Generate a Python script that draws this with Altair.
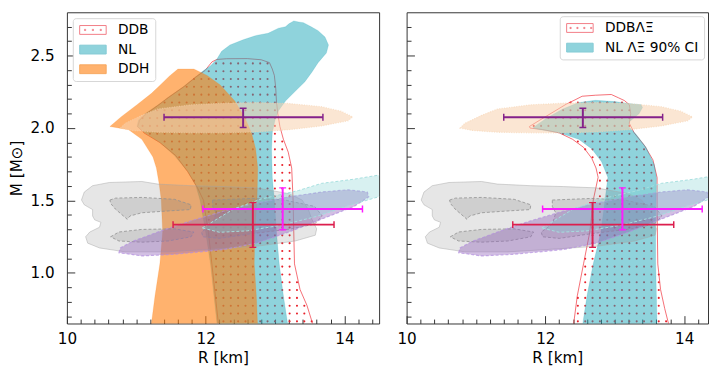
import altair as alt
import numpy as np
import pandas as pd

# ---------------- axes ----------------
X_DOMAIN_L = [10.0, 14.5]
X_DOMAIN_R = [10.0, 14.344]
Y_DOMAIN = [0.65, 2.8]
X_MAJOR = [10, 12, 14]
X_MINOR = [10.2, 10.4, 10.6, 10.8, 11.0, 11.2, 11.4, 11.6, 11.8, 12.2, 12.4, 12.6,
           12.8, 13.0, 13.2, 13.4, 13.6, 13.8, 14.2, 14.4]
Y_MAJOR = [1.0, 1.5, 2.0, 2.5]
Y_MINOR = [0.7, 0.8, 0.9, 1.1, 1.2, 1.3, 1.4, 1.6, 1.7, 1.8, 1.9, 2.1, 2.2, 2.3, 2.4, 2.6, 2.7]

# ---------------- left panel bands ----------------
DDB_R = [12.19, 12.14, 12.09, 12.04, 12.00, 11.97, 11.88, 11.74, 11.57, 11.34, 11.11, 11.02,
         11.05, 11.15, 11.34, 11.46, 11.69, 11.86, 11.99, 12.09, 12.16, 12.30, 12.60, 12.80,
         12.92, 12.96, 12.99, 13.01, 13.02, 13.04, 13.07, 13.12, 13.19, 13.24, 13.26, 13.27,
         13.28, 13.36, 13.46, 13.56]
DDB_M = [0.62, 0.84, 1.06, 1.28, 1.40, 1.50, 1.59, 1.70, 1.81, 1.90, 1.967, 2.011,
         2.055, 2.10, 2.166, 2.21, 2.287, 2.353, 2.397, 2.457, 2.474, 2.479, 2.48, 2.472,
         2.452, 2.408, 2.364, 2.276, 2.187, 2.099, 2.011, 1.923, 1.834, 1.724, 1.503, 1.282,
         1.062, 0.885, 0.775, 0.62]

NL_R = [12.17, 12.12, 12.07, 12.00, 11.92, 11.86, 11.74, 11.55, 11.34, 11.12, 11.01, 11.03,
        11.13, 11.33, 11.45, 11.68, 11.85, 11.97, 12.07, 12.16, 12.23, 12.35, 12.54, 12.73,
        12.90, 13.05, 13.15, 13.20, 13.27, 13.34, 13.41, 13.52, 13.62, 13.72, 13.77, 13.74,
        13.62, 13.53, 13.43, 13.29, 13.15, 13.05, 13.00, 12.96, 12.95, 12.96, 12.99, 13.02,
        13.06, 13.12, 13.19]
NL_M = [0.62, 0.84, 1.06, 1.28, 1.50, 1.60, 1.70, 1.81, 1.90, 1.967, 2.011, 2.055,
        2.10, 2.166, 2.21, 2.287, 2.353, 2.397, 2.43, 2.475, 2.53, 2.574, 2.61, 2.64,
        2.655, 2.69, 2.70, 2.72, 2.74, 2.733, 2.728, 2.70, 2.673, 2.629, 2.574, 2.519,
        2.452, 2.386, 2.32, 2.254, 2.187, 2.12, 2.055, 1.967, 1.856, 1.658, 1.503, 1.282,
        1.062, 0.841, 0.62]

DDH_R = [11.21, 11.27, 11.34, 11.38, 11.36, 11.33, 11.29, 11.24, 11.08, 10.89, 10.62, 10.78,
         11.02, 11.22, 11.35, 11.48, 11.60, 11.83, 12.02, 12.21, 12.42, 12.56, 12.66, 12.72,
         12.75, 12.74, 12.71, 12.70, 12.73, 12.75]
DDH_M = [0.62, 0.841, 1.062, 1.282, 1.503, 1.613, 1.724, 1.80, 1.922, 1.989, 2.011, 2.077,
         2.165, 2.24, 2.30, 2.36, 2.408, 2.408, 2.364, 2.298, 2.187, 2.077, 1.967, 1.856,
         1.724, 1.503, 1.282, 1.062, 0.841, 0.62]

# ---------------- right panel bands ----------------
DDBLX_R = [12.40, 12.46, 12.55, 12.64, 12.69, 12.76, 12.73, 12.67, 12.55, 12.39, 12.20, 11.96,
           11.78, 11.77, 11.92, 12.11, 12.30, 12.44, 12.53, 12.72, 12.95, 13.05, 13.14, 13.21,
           13.23, 13.21, 13.28, 13.43, 13.55, 13.61, 13.61, 13.62, 13.66, 13.72, 13.79]
DDBLX_M = [0.62, 0.841, 1.062, 1.282, 1.503, 1.66, 1.724, 1.79, 1.867, 1.923, 1.967, 1.99,
           2.0, 2.011, 2.055, 2.11, 2.165, 2.198, 2.22, 2.227, 2.232, 2.21, 2.19, 2.161,
           2.099, 2.033, 1.967, 1.878, 1.78, 1.658, 1.45, 1.062, 0.885, 0.753, 0.62]

NLLX_R = [12.53, 12.60, 12.69, 12.80, 12.86, 12.90, 12.81, 12.67, 12.48, 12.20, 11.92, 11.82,
          11.87, 12.01, 12.25, 12.48, 12.72, 13.00, 13.19, 13.38, 13.40, 13.35, 13.21, 13.20,
          13.31, 13.45, 13.57, 13.60, 13.59, 13.59, 13.60, 13.61]
NLLX_M = [0.62, 0.841, 1.062, 1.282, 1.503, 1.66, 1.768, 1.856, 1.923, 1.967, 1.989, 2.0,
          2.02, 2.066, 2.132, 2.176, 2.192, 2.183, 2.17, 2.161, 2.143, 2.099, 2.044, 2.011,
          1.956, 1.867, 1.746, 1.658, 1.40, 1.062, 0.841, 0.62]

# ---------------- observational constraints (both panels) ----------------
GRAY1_R = [10.21, 10.25, 10.37, 10.61, 11.08, 11.31, 11.79, 12.26, 12.73, 13.20, 13.39, 13.48,
           13.53, 13.60, 13.58, 13.29, 12.73, 12.02, 11.46, 10.84, 10.47, 10.30, 10.27, 10.33,
           10.47, 10.49, 10.40, 10.37, 10.37, 10.25]
GRAY1_M = [1.503, 1.558, 1.602, 1.624, 1.631, 1.613, 1.602, 1.596, 1.587, 1.547, 1.503, 1.437,
           1.371, 1.304, 1.260, 1.220, 1.183, 1.161, 1.145, 1.145, 1.172, 1.205, 1.249, 1.282,
           1.315, 1.349, 1.366, 1.393, 1.437, 1.470]
GRAY2A_R = [10.62, 10.70, 11.08, 11.55, 11.79, 11.78, 11.41, 11.08, 10.91, 10.87, 10.70, 10.63]
GRAY2A_M = [1.503, 1.516, 1.521, 1.508, 1.47, 1.437, 1.426, 1.415, 1.393, 1.37, 1.44, 1.48]
GRAY2B_R = [10.63, 10.75, 11.08, 11.55, 11.83, 11.79, 11.46, 11.08, 10.75]
GRAY2B_M = [1.249, 1.282, 1.300, 1.304, 1.282, 1.249, 1.220, 1.212, 1.220]
GRAY2C_R = [12.10, 12.67, 13.14, 13.57, 13.68, 13.57, 13.24, 12.67, 12.20, 11.96, 11.94, 12.10,
            12.15, 12.10]
GRAY2C_M = [1.503, 1.514, 1.503, 1.459, 1.393, 1.337, 1.304, 1.271, 1.238, 1.249, 1.282, 1.337,
            1.415, 1.459]

PEACH_R = [10.77, 10.84, 11.08, 11.31, 11.79, 12.26, 12.73, 13.20, 13.67, 13.95, 14.12, 14.05,
           13.67, 13.20, 12.73, 12.26, 11.79, 11.31, 10.94]
PEACH_M = [2.0, 2.033, 2.088, 2.132, 2.161, 2.172, 2.176, 2.17, 2.148, 2.117, 2.077, 2.05,
           2.015, 1.989, 1.973, 1.967, 1.967, 1.971, 1.984]

PURP_R = [10.75, 10.77, 10.94, 11.31, 11.79, 12.26, 12.73, 13.20, 13.67, 14.05, 14.33, 14.35,
          14.14, 13.67, 13.20, 12.73, 12.26, 11.55, 11.08]
PURP_M = [1.139, 1.172, 1.216, 1.282, 1.36, 1.426, 1.481, 1.525, 1.558, 1.574, 1.558, 1.525,
          1.459, 1.371, 1.282, 1.205, 1.161, 1.128, 1.117]

CYAN_R = [11.95, 12.4, 12.8, 13.34, 13.67, 14.14, 14.49, 14.7, 14.7, 14.49, 14.1, 13.6, 13.1,
          12.6, 12.2]
CYAN_M = [1.31, 1.44, 1.51, 1.569, 1.618, 1.647, 1.675, 1.68, 1.55, 1.525, 1.47, 1.39, 1.33,
          1.29, 1.28]

# error bars
EB_R = [12.54, 13.11, 12.68]
EB_R_LO = [11.40, 11.96, 11.53]
EB_R_HI = [13.69, 14.26, 13.85]
EB_M = [2.075, 1.441, 1.333]
EB_M_LO = [2.004, 1.298, 1.176]
EB_M_HI = [2.137, 1.587, 1.485]
EB_COLOR = ["#84218a", "#ff1cff", "#dc1f4e"]

# legends
LEG_L_NAMES = ["DDB", "NL", "DDH"]
LEG_R_NAMES = ["DDBΛΞ", "NL ΛΞ 90% CI"]

RECT = "M-1,-0.9L4.4,-0.9L4.4,0.9L-1,0.9Z"


def dots_path(xs):
    p = RECT
    for x in xs:
        p += " M%.2f,-0.12L%.2f,-0.12L%.2f,0.12L%.2f,0.12Z" % (x - 0.12, x + 0.12, x + 0.12, x - 0.12)
    return p


FONT = "DejaVu Sans"
PLOT_H = 317


def poly_df(R, M):
    return pd.DataFrame({"R": R, "M": M, "i": list(range(len(R)))})


def inside(x, y, R, M):
    c = False
    n = len(R)
    j = n - 1
    for i in range(n):
        if (M[i] > y) != (M[j] > y):
            xi = (R[j] - R[i]) * (y - M[i]) / (M[j] - M[i]) + R[i]
            if x < xi:
                c = not c
        j = i
    return c


def hatch_dots(R, M):
    # hatch pattern of the dotted band: grid points that fall inside the outline
    gr = np.arange(10.03, 14.6, 0.106)
    gm = np.arange(0.665, 2.8, 0.054)
    pts = [(a, b) for b in gm for a in gr if inside(a, b, R, M)]
    return pd.DataFrame({"R": [p[0] for p in pts], "M": [p[1] for p in pts]})


def enc(xs, ys, order=True):
    d = dict(x=alt.X("R:Q", scale=xs, axis=None), y=alt.Y("M:Q", scale=ys, axis=None))
    if order:
        d["order"] = alt.Order("i:Q")
    return d


def poly(R, M, xs, ys, fill=None, fill_opacity=1.0, stroke="#000000", stroke_width=0.0,
         stroke_opacity=1.0, dash=None):
    kw = dict(interpolate="linear-closed", clip=True, stroke=stroke, strokeWidth=stroke_width,
              strokeOpacity=stroke_opacity)
    if fill is not None:
        kw["fill"] = fill
        kw["fillOpacity"] = fill_opacity
    if dash is not None:
        kw["strokeDash"] = dash
    return alt.Chart(poly_df(R, M)).mark_line(**kw).encode(**enc(xs, ys))


def background(xs, ys):
    layers = [
        poly(GRAY1_R, GRAY1_M, xs, ys, fill="#808080", fill_opacity=0.2, stroke="#a8a8a8",
             stroke_width=0.8, stroke_opacity=0.6),
        poly(GRAY2A_R, GRAY2A_M, xs, ys, fill="#808080", fill_opacity=0.22, stroke="#909090",
             stroke_width=0.8, dash=[3, 2]),
        poly(GRAY2B_R, GRAY2B_M, xs, ys, fill="#808080", fill_opacity=0.22, stroke="#909090",
             stroke_width=0.8, dash=[3, 2]),
        poly(GRAY2C_R, GRAY2C_M, xs, ys, fill="#808080", fill_opacity=0.22, stroke="#909090",
             stroke_width=0.8, dash=[3, 2]),
        poly(PEACH_R, PEACH_M, xs, ys, fill="#f7d2ae", fill_opacity=0.55, stroke="#f7d2ae",
             stroke_width=1.2, stroke_opacity=0.6, dash=[1, 1.5]),
        poly(PURP_R, PURP_M, xs, ys, fill="#9467bd", fill_opacity=0.42, stroke="#b48fe0",
             stroke_width=1.2, stroke_opacity=0.7, dash=[3, 2]),
        poly(CYAN_R, CYAN_M, xs, ys, fill="#7fd0d0", fill_opacity=0.3, stroke="#a5dede",
             stroke_width=1.0, dash=[3, 2]),
    ]
    eb = pd.DataFrame({"R": EB_R, "lo": EB_R_LO, "hi": EB_R_HI, "M": EB_M, "mlo": EB_M_LO,
                       "mhi": EB_M_HI, "c": EB_COLOR})
    col = alt.Color("c:N", scale=None)
    layers.append(alt.Chart(eb).mark_rule(strokeWidth=2, clip=True).encode(
        x=alt.X("lo:Q", scale=xs, axis=None), x2="hi:Q", y=alt.Y("M:Q", scale=ys, axis=None),
        color=col))
    layers.append(alt.Chart(eb).mark_rule(strokeWidth=2, clip=True).encode(
        x=alt.X("R:Q", scale=xs, axis=None), y=alt.Y("mlo:Q", scale=ys, axis=None), y2="mhi:Q",
        color=col))
    for fx in ["lo", "hi"]:
        layers.append(alt.Chart(eb).mark_tick(orient="vertical", size=7, thickness=1.5,
                                              opacity=1, clip=True).encode(
            x=alt.X(fx + ":Q", scale=xs, axis=None), y=alt.Y("M:Q", scale=ys, axis=None),
            color=col))
    for fy in ["mlo", "mhi"]:
        layers.append(alt.Chart(eb).mark_tick(orient="horizontal", size=7, thickness=1.5,
                                              opacity=1, clip=True).encode(
            x=alt.X("R:Q", scale=xs, axis=None), y=alt.Y(fy + ":Q", scale=ys, axis=None),
            color=col))
    return layers


def legend_layer(xs, ys, names, fills, strokes, shapes, orient, offset):
    df = pd.DataFrame({"name": names, "R": [0.0] * len(names), "M": [0.0] * len(names)})
    leg = alt.Legend(title=None, orient=orient, offset=offset, symbolSize=100,
                     symbolStrokeWidth=1, symbolOpacity=1, labelOffset=27, labelFontSize=14,
                     labelFont=FONT, labelColor="#000000", padding=5, rowPadding=6,
                     fillColor="#ffffff", strokeColor="#d6d6d6", cornerRadius=3)
    return alt.Chart(df).mark_point(clip=True, opacity=1, filled=True, strokeWidth=1).encode(
        x=alt.X("R:Q", scale=xs, axis=None), y=alt.Y("M:Q", scale=ys, axis=None),
        fill=alt.Fill("name:N", scale=alt.Scale(domain=names, range=fills), legend=leg),
        stroke=alt.Stroke("name:N", scale=alt.Scale(domain=names, range=strokes), legend=leg),
        shape=alt.Shape("name:N", scale=alt.Scale(domain=names, range=shapes), legend=leg))


def axis_layers(xs, ys, show_ylabels):
    df = pd.DataFrame({"R": [10.0], "M": [1.0]})
    base = alt.Chart(df).mark_point(opacity=0)
    ykw = dict(orient="left", values=Y_MAJOR, offset=-8, tickSize=8, tickWidth=1,
               tickColor="#333333", labels=show_ylabels, labelPadding=13, labelFlush=False,
               format=".1f", labelFontSize=15.5, grid=False, domain=False)
    if show_ylabels:
        ykw.update(title="M [M⊙]", titlePadding=6, titleFontSize=15.5, titleFontWeight="normal")
    else:
        ykw.update(title=None)
    major = base.encode(
        x=alt.X("R:Q", scale=xs, axis=alt.Axis(
            orient="bottom", values=X_MAJOR, offset=-8, tickSize=8, tickWidth=1,
            tickColor="#333333", labelPadding=8, labelFlush=False, format="d",
            labelFontSize=15.5, title="R [km]", titlePadding=4, titleFontSize=15.5,
            titleFontWeight="normal", grid=False, domain=False)),
        y=alt.Y("M:Q", scale=ys, axis=alt.Axis(**ykw)))
    minor = base.encode(
        x=alt.X("R:Q", scale=xs, axis=alt.Axis(
            orient="bottom", values=X_MINOR, offset=-4.5, tickSize=4.5, tickWidth=1,
            tickColor="#333333", labels=False, title=None, grid=False, domain=False)),
        y=alt.Y("M:Q", scale=ys, axis=alt.Axis(
            orient="left", values=Y_MINOR, offset=-4.5, tickSize=4.5, tickWidth=1,
            tickColor="#333333", labels=False, title=None, grid=False, domain=False)))
    return [major, minor]


def panel(dotted_R, dotted_M, filled, xdomain, width, legend, show_ylabels):
    xs = alt.Scale(domain=xdomain, nice=False, zero=False)
    ys = alt.Scale(domain=Y_DOMAIN, nice=False, zero=False)
    layers = [
        alt.Chart(hatch_dots(dotted_R, dotted_M)).mark_circle(
            size=4.5, color="#e8202a", opacity=1, clip=True).encode(**enc(xs, ys, order=False)),
        poly(dotted_R, dotted_M, xs, ys, stroke="#f0303a", stroke_width=1.0, stroke_opacity=0.7),
    ]
    for (R, M, color, op) in filled:
        layers.append(poly(R, M, xs, ys, fill=color, fill_opacity=op, stroke=color,
                           stroke_width=0.6, stroke_opacity=0.3))
    layers += background(xs, ys)
    layers.append(legend(xs, ys))
    layers += axis_layers(xs, ys, show_ylabels)
    return alt.layer(*layers).resolve_axis(x="independent", y="independent").properties(
        width=width, height=PLOT_H)


CYAN_C = "#1fa7b9"
ORANGE_C = "#ff7f0e"

left = panel(DDB_R, DDB_M,
             [(NL_R, NL_M, CYAN_C, 0.5), (DDH_R, DDH_M, ORANGE_C, 0.6)],
             X_DOMAIN_L, 318,
             lambda xs, ys: legend_layer(xs, ys, LEG_L_NAMES,
                                         ["#ffffff", "#8fd3dc", "#ffb26e"],
                                         ["#f27c86", "#86cbd5", "#f7a860"],
                                         [dots_path([0.1, 1.7, 3.3]), RECT, RECT],
                                         "top-left", 6),
             True)

right = panel(DDBLX_R, DDBLX_M,
              [(NLLX_R, NLLX_M, CYAN_C, 0.5)],
              X_DOMAIN_R, 307,
              lambda xs, ys: legend_layer(xs, ys, LEG_R_NAMES,
                                          ["#ffffff", "#8fd3dc"],
                                          ["#f27c86", "#86cbd5"],
                                          [dots_path([-0.2, 1.2, 2.6, 4.0]), RECT],
                                          "top-right", 4),
              False)

chart = alt.hconcat(left, right, spacing=16).resolve_scale(
    x="independent", y="independent", fill="independent", stroke="independent",
    shape="independent", color="independent"
).properties(
    padding={"left": 0, "top": 0, "right": 0, "bottom": 0}
).configure(
    font=FONT, background="#ffffff"
).configure_view(
    stroke="#333333", strokeWidth=1
).configure_axis(
    labelFont=FONT, titleFont=FONT, labelColor="#000000", titleColor="#000000"
)

chart.save("out.html", embed_options={"renderer": "svg", "actions": False})
